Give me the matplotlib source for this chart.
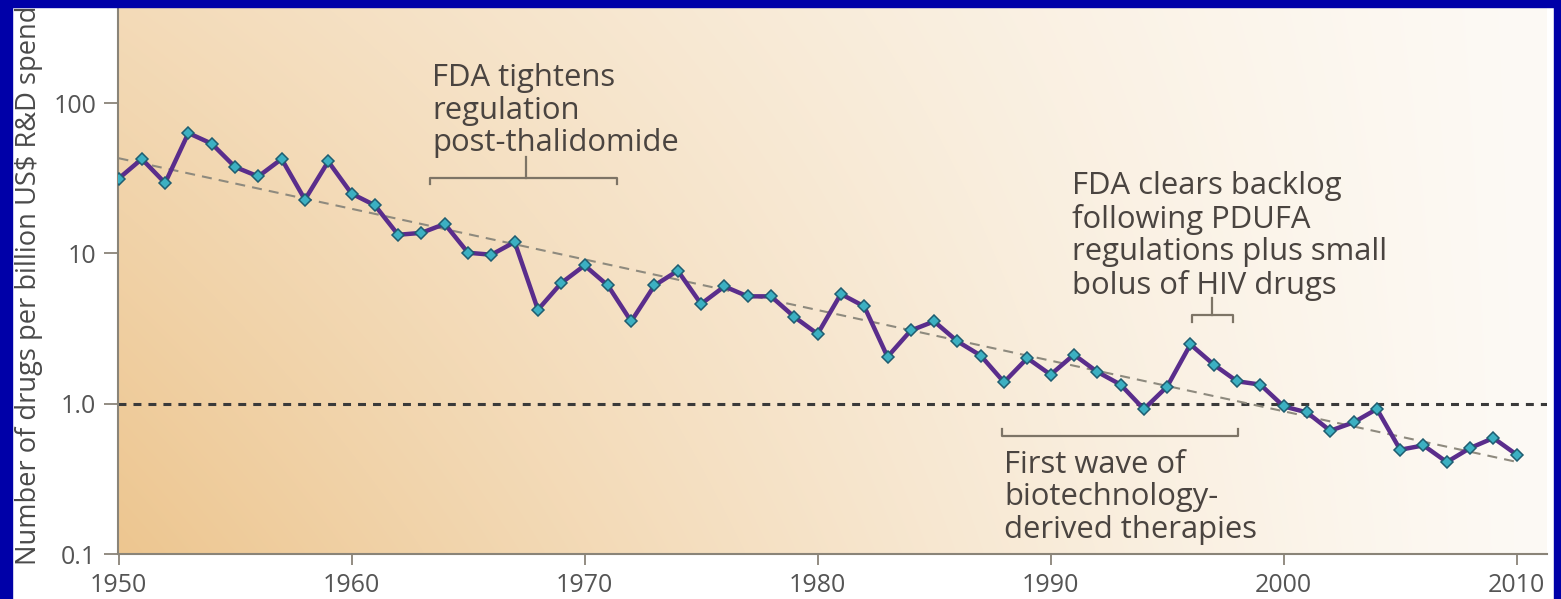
import numpy as np
import matplotlib
matplotlib.use("Agg")
import matplotlib.pyplot as plt
from matplotlib.patches import Rectangle
from matplotlib.ticker import FixedLocator, FixedFormatter, NullLocator

plt.rcParams['font.family'] = ['Open Sans', 'DejaVu Sans']

# data (drugs approved per billion US$ R&D, log scale)
years = list(range(1950, 2011))
drugs_per_billion = [
    31.4, 42.5, 29.4, 63.2, 53.7, 37.6, 32.5, 42.5, 22.8, 40.9,   # 1950s
    25.0, 20.9, 13.3, 13.7, 15.7, 10.1, 9.8, 11.9, 4.22, 6.35,    # 1960s
    8.32, 6.12, 3.53, 6.12, 7.67, 4.61, 6.03, 5.18, 5.18, 3.78,   # 1970s
    2.91, 5.37, 4.44, 2.05, 3.07, 3.53, 2.60, 2.09, 1.39, 2.01,   # 1980s
    1.56, 2.12, 1.63, 1.34, 0.92, 1.30, 2.48, 1.82, 1.41, 1.34,   # 1990s
    0.96, 0.875, 0.661, 0.751, 0.922, 0.494, 0.528, 0.409, 0.507, 0.591,  # 2000s
    0.458,
]
trend_years = [1950, 2010]
trend_values = [43.0, 0.41]

x_ticks = [1950, 1960, 1970, 1980, 1990, 2000, 2010]
y_ticks = [0.1, 1.0, 10, 100]
y_tick_labels = ['0.1', '1.0', '10', '100']

W, H = 1561, 599
fig = plt.figure(figsize=(W / 100, H / 100), dpi=100)
fig.patch.set_facecolor('white')
ax = fig.add_axes([118.5 / W, 1 - 554 / H, (1547 - 118.5) / W, 554 / H])

# background gradient: tan at lower left fading to white at the right
tan = np.array([237, 198, 144]) / 255.0
white = np.array([253, 250, 245]) / 255.0
gx, gy = np.meshgrid(np.linspace(0, 1, 300), np.linspace(0, 1, 120))
t = (1 - gx) ** 1.2 * (0.6 + 0.4 * (1 - gy))
grad = white + t[..., None] * (tan - white)
ax.imshow(grad, extent=[0, 1, 0, 1], transform=ax.transAxes, origin='lower',
          aspect='auto', interpolation='bicubic', zorder=0)

ax.set_yscale('log')
ax.set_xlim(1950, 2011.3)
ax.set_ylim(0.1, 10 ** (-1 + 554 / 150.3))

ax.axhline(1.0, color='#3a3a3a', lw=2.2, dashes=(2.6, 2.3), zorder=2)
ax.plot(trend_years, trend_values, color='#8e8a7e', lw=1.5, dashes=(4.8, 3.4), zorder=2)
ax.plot(years, drugs_per_billion, color='#5a2d8c', lw=3.2, zorder=3,
        marker='D', ms=6, mfc='#3cb0c2', mec='#1f5d70', mew=1.1)

# axes styling
for s in ['top', 'right']:
    ax.spines[s].set_visible(False)
for s in ['left', 'bottom']:
    ax.spines[s].set_color('#8a8478')
    ax.spines[s].set_linewidth(1.5)
ax.yaxis.set_major_locator(FixedLocator(y_ticks))
ax.yaxis.set_major_formatter(FixedFormatter(y_tick_labels))
ax.yaxis.set_minor_locator(NullLocator())
ax.set_xticks(x_ticks)
ax.tick_params(axis='both', colors='#8a8478', labelcolor='#555555', labelsize=18,
               width=1.3, direction='out')
ax.tick_params(axis='y', length=10, pad=6)
ax.tick_params(axis='x', length=8, pad=6)

# annotations
txt_kw = dict(fontsize=22.3, color='#4a4440', ha='left', va='top', linespacing=1.12, zorder=5)
br_kw = dict(color='#7d7466', lw=1.6, zorder=4)

ax.text(1963.45, 185, 'FDA tightens\nregulation\npost-thalidomide', **txt_kw)
ax.plot([1963.37, 1963.37, 1971.4, 1971.4], [29.1, 31.9, 31.9, 29.1], **br_kw)
ax.plot([1967.5, 1967.5], [31.9, 44.0], **br_kw)

ax.text(1990.92, 35.5, 'FDA clears backlog\nfollowing PDUFA\nregulations plus small\nbolus of HIV drugs', **txt_kw)
ax.plot([1996.07, 1996.07, 1997.83, 1997.83], [3.51, 3.91, 3.91, 3.51], **br_kw)
ax.plot([1996.93, 1996.93], [3.91, 5.07], **br_kw)

ax.text(1988.0, 0.495, 'First wave of\nbiotechnology-\nderived therapies', **txt_kw)
ax.plot([1987.92, 1987.92, 1998.05, 1998.05], [0.682, 0.612, 0.612, 0.682], **br_kw)

# y label, runs up to the frame
fig.text(29 / W, 34 / H, 'Number of drugs per billion US$ R&D spend', rotation=90,
         ha='center', va='bottom', fontsize=19.6, color='#4a4a4a')

# blue frame
blue = '#0000a8'
fig.add_artist(Rectangle((0, 0), 12 / W, 1, transform=fig.transFigure, color=blue, zorder=20))
fig.add_artist(Rectangle((0, 1 - 7 / H), 1, 7 / H, transform=fig.transFigure, color=blue, zorder=20))
fig.add_artist(Rectangle((1554 / W, 0), 7 / W, 1, transform=fig.transFigure, color=blue, zorder=20))

fig.savefig('out.png', dpi=100)
